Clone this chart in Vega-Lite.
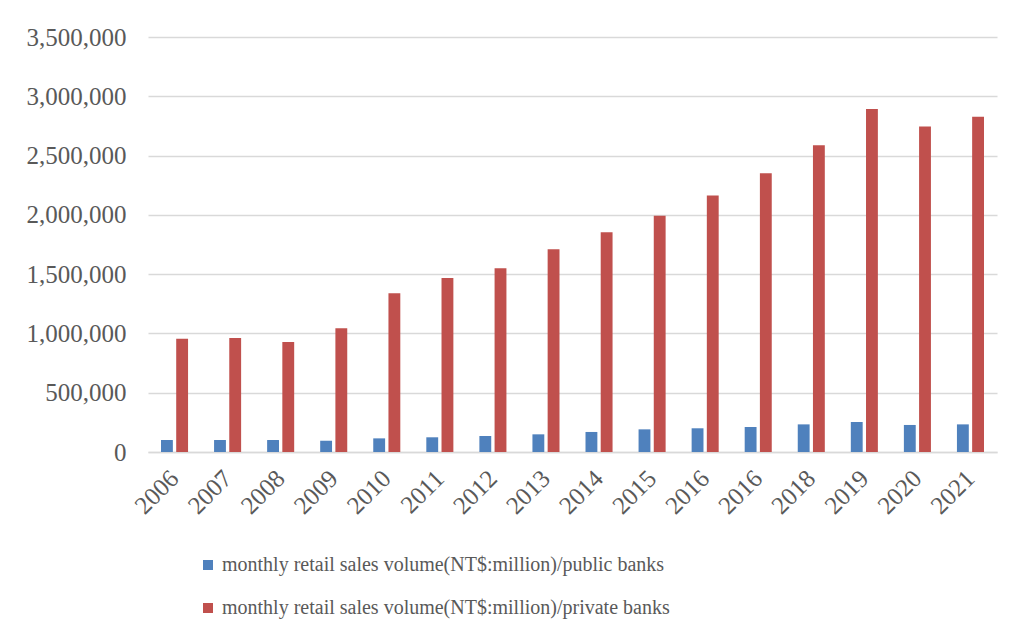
{
  "$schema": "https://vega.github.io/schema/vega-lite/v6.json",
  "width": 849,
  "height": 415,
  "autosize": {"type": "none"},
  "padding": {"left": 148, "top": 37, "right": 19, "bottom": 187},
  "background": "white",
  "data": {
    "values": [
      {"year": "2006", "bank": "monthly retail sales volume(NT$:million)/public banks", "value": 101000},
      {"year": "2006", "bank": "monthly retail sales volume(NT$:million)/private banks", "value": 955000},
      {"year": "2007", "bank": "monthly retail sales volume(NT$:million)/public banks", "value": 101000},
      {"year": "2007", "bank": "monthly retail sales volume(NT$:million)/private banks", "value": 962000},
      {"year": "2008", "bank": "monthly retail sales volume(NT$:million)/public banks", "value": 101000},
      {"year": "2008", "bank": "monthly retail sales volume(NT$:million)/private banks", "value": 927000},
      {"year": "2009", "bank": "monthly retail sales volume(NT$:million)/public banks", "value": 95000},
      {"year": "2009", "bank": "monthly retail sales volume(NT$:million)/private banks", "value": 1043000},
      {"year": "2010", "bank": "monthly retail sales volume(NT$:million)/public banks", "value": 115000},
      {"year": "2010", "bank": "monthly retail sales volume(NT$:million)/private banks", "value": 1338000},
      {"year": "2011", "bank": "monthly retail sales volume(NT$:million)/public banks", "value": 124000},
      {"year": "2011", "bank": "monthly retail sales volume(NT$:million)/private banks", "value": 1467000},
      {"year": "2012", "bank": "monthly retail sales volume(NT$:million)/public banks", "value": 135000},
      {"year": "2012", "bank": "monthly retail sales volume(NT$:million)/private banks", "value": 1549000},
      {"year": "2013", "bank": "monthly retail sales volume(NT$:million)/public banks", "value": 149000},
      {"year": "2013", "bank": "monthly retail sales volume(NT$:million)/private banks", "value": 1710000},
      {"year": "2014", "bank": "monthly retail sales volume(NT$:million)/public banks", "value": 169000},
      {"year": "2014", "bank": "monthly retail sales volume(NT$:million)/private banks", "value": 1853000},
      {"year": "2015", "bank": "monthly retail sales volume(NT$:million)/public banks", "value": 191000},
      {"year": "2015", "bank": "monthly retail sales volume(NT$:million)/private banks", "value": 1993000},
      {"year": "2016", "bank": "monthly retail sales volume(NT$:million)/public banks", "value": 200000},
      {"year": "2016", "bank": "monthly retail sales volume(NT$:million)/private banks", "value": 2164000},
      {"year": "2016b", "bank": "monthly retail sales volume(NT$:million)/public banks", "value": 211000},
      {"year": "2016b", "bank": "monthly retail sales volume(NT$:million)/private banks", "value": 2350000},
      {"year": "2018", "bank": "monthly retail sales volume(NT$:million)/public banks", "value": 233000},
      {"year": "2018", "bank": "monthly retail sales volume(NT$:million)/private banks", "value": 2586000},
      {"year": "2019", "bank": "monthly retail sales volume(NT$:million)/public banks", "value": 253000},
      {"year": "2019", "bank": "monthly retail sales volume(NT$:million)/private banks", "value": 2892000},
      {"year": "2020", "bank": "monthly retail sales volume(NT$:million)/public banks", "value": 228000},
      {"year": "2020", "bank": "monthly retail sales volume(NT$:million)/private banks", "value": 2746000},
      {"year": "2021", "bank": "monthly retail sales volume(NT$:million)/public banks", "value": 233000},
      {"year": "2021", "bank": "monthly retail sales volume(NT$:million)/private banks", "value": 2827000}
    ]
  },
  "mark": {"type": "bar"},
  "encoding": {
    "x": {
      "field": "year",
      "type": "nominal",
      "sort": null,
      "scale": {"paddingInner": 0.49, "paddingOuter": 0.245},
      "axis": {
        "title": null,
        "labelAngle": -45,
        "labelAlign": "right",
        "labelBaseline": "middle",
        "labelExpr": "replace(datum.label, 'b', '')",
        "labelFont": "Liberation Serif",
        "labelFontSize": 25,
        "labelColor": "#595959",
        "labelPadding": 22,
        "ticks": false,
        "domain": true,
        "domainColor": "#d9d9d9",
        "domainWidth": 1.5,
        "grid": false
      }
    },
    "xOffset": {
      "field": "bank",
      "type": "nominal",
      "scale": {
        "domain": ["monthly retail sales volume(NT$:million)/public banks", "monthly retail sales volume(NT$:million)/private banks"],
        "paddingInner": 0.22,
        "paddingOuter": 0
      }
    },
    "y": {
      "field": "value",
      "type": "quantitative",
      "scale": {"domain": [0, 3500000], "nice": false},
      "axis": {
        "title": null,
        "values": [0, 500000, 1000000, 1500000, 2000000, 2500000, 3000000, 3500000],
        "format": ",.0f",
        "labelFont": "Liberation Serif",
        "labelFontSize": 25,
        "labelColor": "#595959",
        "labelPadding": 22,
        "ticks": false,
        "domain": false,
        "grid": true,
        "gridColor": "#d9d9d9",
        "gridWidth": 1.5
      }
    },
    "color": {
      "field": "bank",
      "type": "nominal",
      "scale": {
        "domain": ["monthly retail sales volume(NT$:million)/public banks", "monthly retail sales volume(NT$:million)/private banks"],
        "range": ["#4F81BD", "#C0504D"]
      },
      "legend": {
        "title": null,
        "orient": "none",
        "legendX": 50,
        "legendY": 518,
        "direction": "vertical",
        "symbolType": "square",
        "symbolSize": 100,
        "symbolStrokeWidth": 0,
        "labelFont": "Liberation Serif",
        "labelFontSize": 20,
        "labelColor": "#595959",
        "labelOffset": 4,
        "labelLimit": 0,
        "rowPadding": 23
      }
    }
  },
  "config": {
    "view": {"stroke": null}
  }
}
